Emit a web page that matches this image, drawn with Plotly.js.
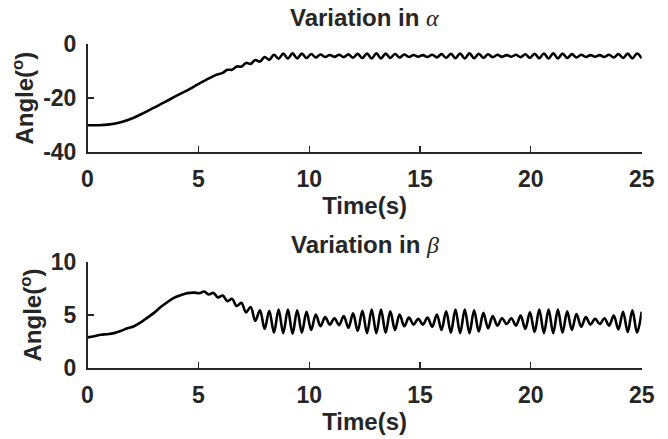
<!DOCTYPE html>
<html>
<head>
<meta charset="utf-8">
<script src="https://cdn.plot.ly/plotly-3.0.1.min.js"></script>
<style>html,body{margin:0;padding:0;background:#fff;}#chart{width:668px;height:439px;}</style>
</head>
<body>
<div id="chart"></div>
<script>
// ---- data ----
const alphaTime = [0, 0.5, 1.0, 1.5, 2.0, 2.5, 3.0, 3.5, 4.0, 4.5, 5.0, 5.5, 5.8,
  6.10, 6.31, 6.52, 6.73, 6.94, 7.15, 7.36, 7.57, 7.78, 7.99, 8.20, 8.41, 8.62, 8.83,
  9.04, 9.25, 9.46, 9.67, 9.88, 10.09, 10.30, 10.51, 10.72, 10.93, 11.14, 11.35, 11.56, 11.77,
  11.98, 12.19, 12.40, 12.61, 12.82, 13.03, 13.24, 13.45, 13.66, 13.87, 14.08, 14.29, 14.50, 14.71,
  14.92, 15.13, 15.34, 15.55, 15.76, 15.97, 16.18, 16.39, 16.60, 16.81, 17.02, 17.23, 17.44, 17.65,
  17.86, 18.07, 18.28, 18.49, 18.70, 18.91, 19.12, 19.33, 19.54, 19.75, 19.96, 20.17, 20.38, 20.59,
  20.80, 21.01, 21.22, 21.43, 21.64, 21.85, 22.06, 22.27, 22.48, 22.69, 22.90, 23.11, 23.32, 23.53,
  23.74, 23.95, 24.16, 24.37, 24.58, 24.79, 25.00];
const alphaAngle = [-30, -30, -29.7, -28.9, -27.5, -25.6, -23.5, -21.4, -19.2, -17.1, -14.8, -12.6, -11.4,
  -10.65, -9.55, -9.5, -8.3, -8.35, -7.0, -7.35, -5.9, -6.5, -4.8, -5.85, -4.0, -5.45, -3.55,
  -5.35, -3.45, -5.3, -3.55, -5.2, -3.7, -5.0, -3.9, -4.8, -4.05, -4.75, -4.0, -4.85, -3.85,
  -5.05, -3.65, -5.2, -3.5, -5.35, -3.45, -5.3, -3.55, -5.15, -3.7, -5.0, -3.9, -4.8, -4.05,
  -4.7, -4.1, -4.8, -3.95, -4.95, -3.75, -5.1, -3.6, -5.25, -3.5, -5.35, -3.45, -5.25, -3.6,
  -5.1, -3.8, -4.9, -4.0, -4.75, -4.1, -4.7, -4.0, -4.85, -3.8, -5.1, -3.6, -5.25, -3.5,
  -5.35, -3.45, -5.3, -3.55, -5.2, -3.75, -5.0, -3.95, -4.8, -4.1, -4.7, -4.1, -4.8, -3.95,
  -5.0, -3.75, -5.15, -3.55, -5.3, -3.5, -5.3];

const betaTime = [0, 0.3, 0.6, 0.9, 1.2, 1.5, 1.8, 2.1, 2.4, 2.7, 3.0, 3.3, 3.6, 3.9, 4.2, 4.5, 4.8,
  5.05, 5.26, 5.47, 5.68, 5.89, 6.10, 6.31, 6.52, 6.73, 6.94, 7.15, 7.36, 7.57, 7.78, 7.99, 8.20, 8.41,
  8.62, 8.83, 9.04, 9.25, 9.46, 9.67, 9.88, 10.09, 10.30, 10.51, 10.72, 10.93, 11.14, 11.35, 11.56,
  11.77, 11.98, 12.19, 12.40, 12.61, 12.82, 13.03, 13.24, 13.45, 13.66, 13.87, 14.08, 14.29, 14.50,
  14.71, 14.92, 15.13, 15.34, 15.55, 15.76, 15.97, 16.18, 16.39, 16.60, 16.81, 17.02, 17.23, 17.44,
  17.65, 17.86, 18.07, 18.28, 18.49, 18.70, 18.91, 19.12, 19.33, 19.54, 19.75, 19.96, 20.17, 20.38,
  20.59, 20.80, 21.01, 21.22, 21.43, 21.64, 21.85, 22.06, 22.27, 22.48, 22.69, 22.90, 23.11, 23.32,
  23.53, 23.74, 23.95, 24.16, 24.37, 24.58, 24.79, 25.00];
const betaAngle = [2.9, 3.0, 3.15, 3.2, 3.3, 3.5, 3.75, 3.95, 4.3, 4.75, 5.2, 5.75, 6.2, 6.6, 6.85, 7.05, 7.1,
  7.05, 7.2, 6.93, 7.07, 6.65, 6.83, 6.3, 6.52, 5.85, 6.15, 5.25, 5.75, 4.45, 5.45, 3.7, 5.4, 3.35,
  5.5, 3.3, 5.5, 3.25, 5.45, 3.35, 5.3, 3.6, 5.05, 3.95, 4.8, 4.1, 4.7, 4.05, 4.9,
  3.8, 5.15, 3.5, 5.4, 3.3, 5.5, 3.3, 5.5, 3.35, 5.35, 3.6, 5.05, 3.95, 4.75,
  4.1, 4.65, 4.1, 4.75, 3.9, 5.05, 3.6, 5.35, 3.35, 5.5, 3.3, 5.5, 3.3, 5.45,
  3.45, 5.2, 3.75, 4.9, 4.0, 4.7, 4.15, 4.7, 4.0, 4.95, 3.7, 5.25, 3.4, 5.5,
  3.3, 5.5, 3.3, 5.5, 3.35, 5.35, 3.6, 5.1, 3.9, 4.8, 4.1, 4.65, 4.15, 4.7,
  4.0, 4.95, 3.65, 5.3, 3.4, 5.45, 3.35, 5.3];

const timeTicks = [0, 5, 10, 15, 20, 25];
const alphaTicks = [-40, -20, 0];
const alphaTickText = ['-40', '-20', '0'];
const betaTicks = [0, 5, 10];
const betaTickText = ['0', '5', '10'];
const titleAlpha = 'Variation in <span style="font-family:\'Times New Roman\',\'Liberation Serif\',serif;font-style:italic;font-weight:normal">α</span>';
const titleBeta = 'Variation in <span style="font-family:\'Times New Roman\',\'Liberation Serif\',serif;font-style:italic;font-weight:normal">β</span>';
const xLabel = 'Time(s)';
const yLabel = 'Angle(<sup>o</sup>)';

// ---- styling ----
const ink = '#262626';
const fnt = {family: 'Arial, "Liberation Sans", sans-serif', size: 23, color: ink, weight: 'bold'};
const tfnt = {family: 'Arial, "Liberation Sans", sans-serif', size: 24, color: ink, weight: 'bold'};

function xaxisCfg(anchor) {
  return {
    anchor: anchor, domain: [0.131, 0.9606], range: [0, 25],
    tickvals: timeTicks, ticktext: timeTicks.map(String),
    ticks: 'inside', ticklen: 6, tickwidth: 1.3, tickcolor: ink,
    showline: true, linecolor: ink, linewidth: 1.5, mirror: false,
    showgrid: false, zeroline: false, tickfont: fnt, ticklabelstandoff: 6,
    title: {text: xLabel, font: tfnt, standoff: 6}, automargin: false
  };
}
function yaxisCfg(anchor, domain, range, vals, text) {
  return {
    anchor: anchor, domain: domain, range: range,
    tickvals: vals, ticktext: text,
    ticks: 'inside', ticklen: 6, tickwidth: 1.3, tickcolor: ink,
    showline: true, linecolor: ink, linewidth: 1.5, mirror: false,
    showgrid: false, zeroline: false, tickfont: fnt, ticklabelstandoff: 5,
    title: {text: yLabel, font: tfnt, standoff: 2}, automargin: false
  };
}

const traces = [
  {x: alphaTime, y: alphaAngle, xaxis: 'x', yaxis: 'y', type: 'scatter', mode: 'lines',
   line: {color: '#000000', width: 2.6, shape: 'spline', smoothing: 1}, hoverinfo: 'skip'},
  {x: betaTime, y: betaAngle, xaxis: 'x2', yaxis: 'y2', type: 'scatter', mode: 'lines',
   line: {color: '#000000', width: 2.6, shape: 'spline', smoothing: 1}, hoverinfo: 'skip'}
];

const layout = {
  width: 668, height: 439,
  margin: {l: 0, r: 0, t: 0, b: 0},
  paper_bgcolor: '#ffffff', plot_bgcolor: '#ffffff',
  showlegend: false,
  xaxis: xaxisCfg('y'),
  yaxis: yaxisCfg('x', [0.6531, 0.8998], [-40, 0], alphaTicks, alphaTickText),
  xaxis2: xaxisCfg('y2'),
  yaxis2: yaxisCfg('x2', [0.1610, 0.4039], [0, 10], betaTicks, betaTickText),
  annotations: [
    {text: titleAlpha, xref: 'paper', yref: 'paper', x: 0.546, y: 1 - 18/439,
     xanchor: 'center', yanchor: 'middle', showarrow: false, font: tfnt},
    {text: titleBeta, xref: 'paper', yref: 'paper', x: 0.546, y: 1 - 244/439,
     xanchor: 'center', yanchor: 'middle', showarrow: false, font: tfnt}
  ]
};

Plotly.newPlot('chart', traces, layout, {staticPlot: true, displayModeBar: false});
</script>
</body>
</html>
